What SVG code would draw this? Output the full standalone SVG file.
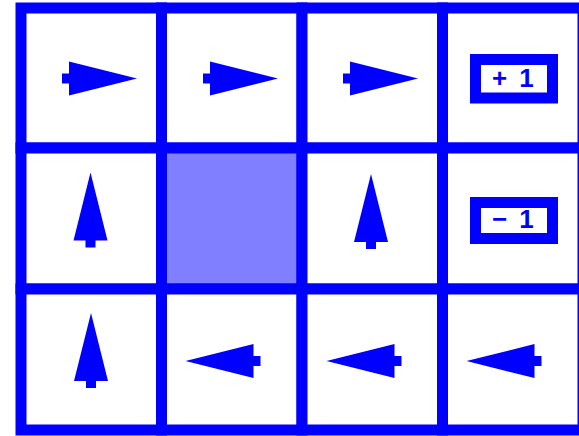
<svg xmlns="http://www.w3.org/2000/svg" width="579" height="436" viewBox="0 0 579 436">
<style>
.cell{fill:#ffffff;stroke:#0000ff;stroke-width:11}
.wall{fill:#7f7fff;stroke:#0000ff;stroke-width:11}
.arr{fill:#0000ff}
.box{fill:#ffffff;stroke:#0000ff;stroke-width:11}
.lbl{font-family:"Liberation Sans",Arial,sans-serif;font-size:26px;font-weight:bold;fill:#0000ff;letter-spacing:12px}
</style>
<defs>
<path id="arrow" d="M46 0 L-22 -17 L-22 -5 L-29 -5 L-29 5 L-22 5 L-22 17 Z"/>
</defs>
<rect width="579" height="436" fill="#ffffff"/>
<g id="cell-0-0"><rect class="cell" x="21" y="8" width="140.5" height="140"/><use href="#arrow" class="arr" transform="translate(91,78.5)"/></g>
<g id="cell-0-1"><rect class="cell" x="161.5" y="8" width="140.5" height="140"/><use href="#arrow" class="arr" transform="translate(232,78.5)"/></g>
<g id="cell-0-2"><rect class="cell" x="302" y="8" width="140.5" height="140"/><use href="#arrow" class="arr" transform="translate(372,78.5)"/></g>
<g id="cell-0-3"><rect class="cell" x="442.5" y="8" width="140.5" height="140"/><rect class="box" x="475.5" y="59.5" width="77" height="38.5"/><text class="lbl" x="492" y="87">+1</text></g>
<g id="cell-1-0"><rect class="cell" x="21" y="148" width="140.5" height="141"/><use href="#arrow" class="arr" transform="translate(90.5,218.5) rotate(-90)"/></g>
<g id="cell-1-1"><rect class="wall" x="161.5" y="148" width="140.5" height="141"/></g>
<g id="cell-1-2"><rect class="cell" x="302" y="148" width="140.5" height="141"/><use href="#arrow" class="arr" transform="translate(371,220) rotate(-90)"/></g>
<g id="cell-1-3"><rect class="cell" x="442.5" y="148" width="140.5" height="141"/><rect class="box" x="475.5" y="202.5" width="77" height="36"/><text class="lbl" x="492" y="228">−1</text></g>
<g id="cell-2-0"><rect class="cell" x="21" y="289" width="140.5" height="141"/><use href="#arrow" class="arr" transform="translate(91,359) rotate(-90)"/></g>
<g id="cell-2-1"><rect class="cell" x="161.5" y="289" width="140.5" height="141"/><use href="#arrow" class="arr" transform="translate(231.5,361) rotate(180)"/></g>
<g id="cell-2-2"><rect class="cell" x="302" y="289" width="140.5" height="141"/><use href="#arrow" class="arr" transform="translate(372.5,361) rotate(180)"/></g>
<g id="cell-2-3"><rect class="cell" x="442.5" y="289" width="140.5" height="141"/><use href="#arrow" class="arr" transform="translate(512.5,361) rotate(180)"/></g>
<g id="connectors"/>
</svg>
